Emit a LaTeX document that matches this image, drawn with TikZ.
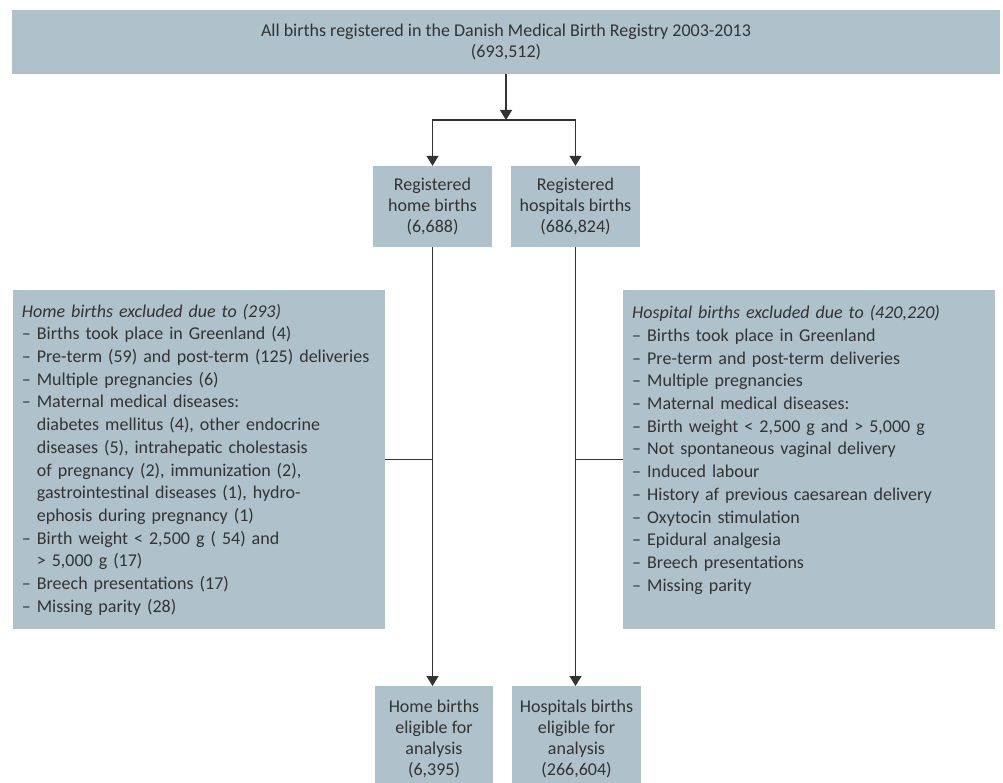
\documentclass[tikz,border=0pt]{standalone}
\usepackage{fontspec}
\setmainfont{Carlito}
\usetikzlibrary{arrows.meta}
\definecolor{boxfill}{HTML}{AFC1CB}
\definecolor{ink}{HTML}{333333}
\begin{document}
\begin{tikzpicture}[x=1pt,y=1pt,
  every node/.style={font=\fontsize{18}{21}\selectfont, text=ink},
  box/.style={fill=boxfill, draw=none, inner sep=0pt, align=center},
  lst/.style={box, align=left, inner xsep=9pt, inner ysep=0pt, text width=354pt,
    minimum height=339pt, font=\fontsize{18}{22.7}\selectfont},
  arr/.style={draw=ink, line width=1.3pt, -{Triangle[width=12pt,length=10pt]}},
  ln/.style={draw=ink, line width=1.3pt}]
\useasboundingbox (0,0) rectangle (1003,-783);
% top
\node[box, minimum width=988pt, minimum height=64pt] (top) at (506,-42)
  {All births registered in the Danish Medical Birth Registry 2003-2013\\(693,512)};
\coordinate (j) at (506,-120);
% registered
\node[box, minimum width=119pt, minimum height=81pt] (home) at (432.5,-206.5)
  {Registered\\home births\\(6,688)};
\node[box, minimum width=129pt, minimum height=81pt] (hosp) at (575.5,-206.5)
  {Registered\\hospitals births\\(686,824)};
% exclusions
\node[lst, anchor=north west] (homex) at (12.7,-290) {%
  \textit{Home births excluded due to (293)}\\
  – Births took place in Greenland (4)\\
  – Pre-term (59) and post-term (125) deliveries\\
  – Multiple pregnancies (6)\\
  – Maternal medical diseases:\\
  \hphantom{– }diabetes mellitus (4), other endocrine\\
  \hphantom{– }diseases (5), intrahepatic cholestasis\\
  \hphantom{– }of pregnancy (2), immunization (2),\\
  \hphantom{– }gastrointestinal diseases (1), hydro-\\
  \hphantom{– }ephosis during pregnancy (1)\\
  – Birth weight < 2,500 g ( 54) and\\
  \hphantom{– }> 5,000 g (17)\\
  – Breech presentations (17)\\
  – Missing parity (28)};
\node[lst, anchor=north west] (hospx) at (623,-290) {%
  \textit{Hospital births excluded due to (420,220)}\\
  – Births took place in Greenland\\
  – Pre-term and post-term deliveries\\
  – Multiple pregnancies\\
  – Maternal medical diseases:\\
  – Birth weight < 2,500 g and > 5,000 g\\
  – Not spontaneous vaginal delivery\\
  – Induced labour\\
  – History af previous caesarean delivery\\
  – Oxytocin stimulation\\
  – Epidural analgesia\\
  – Breech presentations\\
  – Missing parity\\
  \mbox{}};
% eligible
\node[box, minimum width=118pt, minimum height=106pt, anchor=north] (homee) at (434,-686)
  {Home births\\eligible for\\analysis\\(6,395)};
\node[box, minimum width=129pt, minimum height=106pt, anchor=north] (hospe) at (576.5,-686)
  {Hospitals births\\eligible for\\analysis\\(266,604)};
% connectors
\draw[arr] (top.south) -- (j);
\draw[arr] (j) -| (home.north);
\draw[arr] (j) -| (hosp.north);
\draw[arr] (home.south) -- (home.south |- homee.north);
\draw[arr] (hosp.south) -- (hosp.south |- hospe.north);
\draw[ln] (homex.east) -- (homex.east -| home.south);
\draw[ln] (hospx.west) -- (hospx.west -| hosp.south);
\end{tikzpicture}
\end{document}
